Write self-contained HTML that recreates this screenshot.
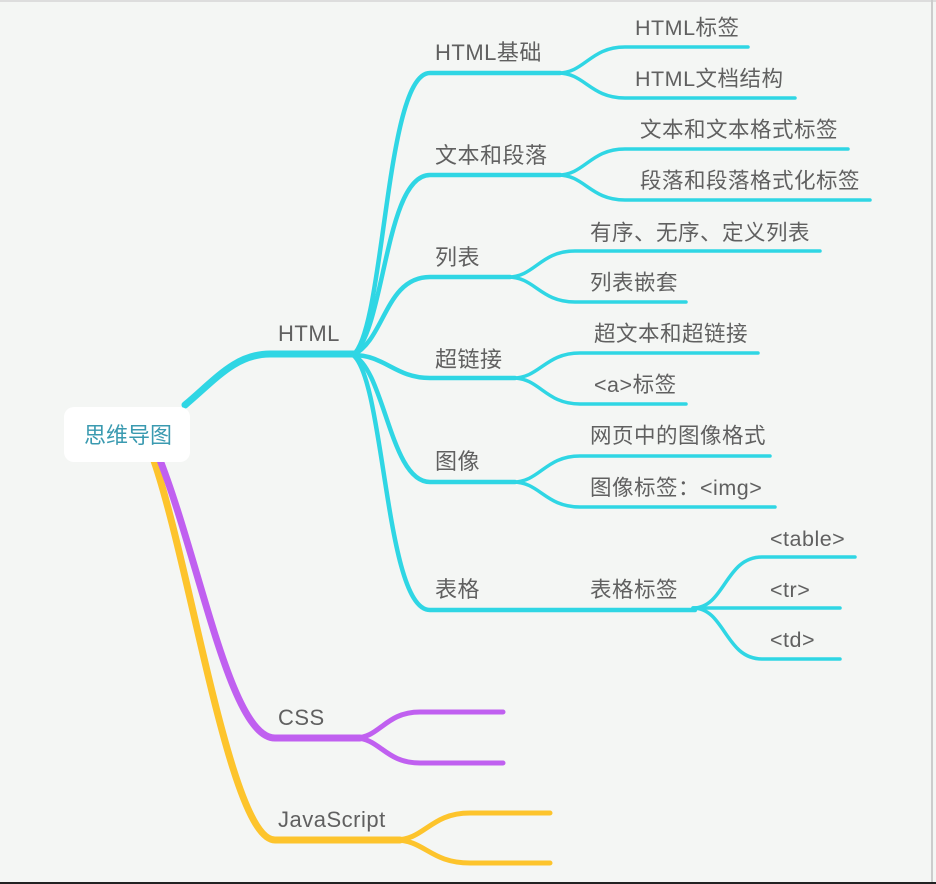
<!DOCTYPE html>
<html><head><meta charset="utf-8"><style>
html,body{margin:0;padding:0;background:#f4f6f4;}
svg{display:block}
text{font-family:"Liberation Sans","Noto Sans CJK SC",sans-serif;fill:#606060;}
</style></head><body>
<svg width="936" height="884" viewBox="0 0 936 884" xmlns="http://www.w3.org/2000/svg">
<rect x="0" y="0" width="936" height="884" fill="#f4f6f4"/>
<line x1="0" y1="1" x2="936" y2="1" stroke="#ddd" stroke-width="2"/>
<line x1="932" y1="0" x2="932" y2="884" stroke="#ccc" stroke-width="2"/>
<line x1="0" y1="883" x2="936" y2="883" stroke="#222" stroke-width="2"/>
<g fill="none" stroke-linecap="round">
<path d="M152 455 C 190 560, 230 840, 275 840 L 400 840" stroke="#fdc42c" stroke-width="7"/>
<path d="M395 840 C 425 840, 430 813, 470 813 L 550 813" stroke="#fdc42c" stroke-width="5"/>
<path d="M395 840 C 425 840, 430 863, 470 863 L 550 863" stroke="#fdc42c" stroke-width="5"/>
<path d="M158 455 C 200 560, 230 738, 275 738 L 360 738" stroke="#c060f0" stroke-width="7"/>
<path d="M355 738 C 380 738, 385 712, 420 712 L 503 712" stroke="#c060f0" stroke-width="5"/>
<path d="M355 738 C 380 738, 385 763, 420 763 L 503 763" stroke="#c060f0" stroke-width="5"/>
<g stroke="#2fd6e4">
<path d="M185 405 C 215 380, 235 354, 270 354 L 355 354" stroke-width="7"/>
<g stroke-width="4.5">
<path d="M353 355 C 385 330, 385 73, 430 73 L 560 73"/>
<path d="M353 355 C 385 330, 385 175, 430 175 L 560 175"/>
<path d="M353 355 C 385 340, 385 277, 430 277 L 510 277"/>
<path d="M353 355 C 385 355, 395 378, 430 378 L 515 378"/>
<path d="M353 355 C 385 370, 390 482, 430 482 L 515 482"/>
<path d="M353 355 C 385 380, 385 610, 430 610 L 695 610"/>
</g>
<g stroke-width="3.5">
<path d="M558 73 C 585 73, 590 47, 625 47 L 748 47"/>
<path d="M558 73 C 585 73, 590 98, 625 98 L 795 98"/>
<path d="M558 175 C 585 175, 590 149, 625 149 L 848 149"/>
<path d="M558 175 C 585 175, 590 200, 625 200 L 870 200"/>
<path d="M508 277 C 535 277, 540 251, 575 251 L 820 251"/>
<path d="M508 277 C 535 277, 540 302, 575 302 L 686 302"/>
<path d="M513 378 C 540 378, 545 353, 580 353 L 758 353"/>
<path d="M513 378 C 540 378, 545 404, 580 404 L 686 404"/>
<path d="M513 482 C 540 482, 545 456, 580 456 L 770 456"/>
<path d="M513 482 C 540 482, 545 507, 580 507 L 775 507"/>
<path d="M693 608 C 725 608, 725 557, 762 557 L 855 557"/>
<path d="M693 608 L 840 608"/>
<path d="M693 608 C 725 608, 725 659, 762 659 L 840 659"/>
</g>
</g>
</g>
<rect x="64" y="407" width="126" height="55" rx="10" fill="#ffffff"/>
<text x="128" y="443" text-anchor="middle" font-size="22" style="fill:#3a9ab0">思维导图</text>
<g font-size="22" letter-spacing="0.5">
<text x="278" y="341">HTML</text>
<text x="278" y="725">CSS</text>
<text x="278" y="827">JavaScript</text>
<text x="435" y="60">HTML基础</text>
<text x="435" y="163">文本和段落</text>
<text x="435" y="265">列表</text>
<text x="435" y="367">超链接</text>
<text x="435" y="469">图像</text>
<text x="435" y="597">表格</text>
</g>
<g font-size="21.5" letter-spacing="0.5">
<text x="635" y="35">HTML标签</text>
<text x="635" y="86">HTML文档结构</text>
<text x="640" y="137">文本和文本格式标签</text>
<text x="640" y="188">段落和段落格式化标签</text>
<text x="590" y="240">有序、无序、定义列表</text>
<text x="590" y="290">列表嵌套</text>
<text x="594" y="341">超文本和超链接</text>
<text x="594" y="392">&lt;a&gt;标签</text>
<text x="590" y="443">网页中的图像格式</text>
<text x="590" y="495">图像标签：&lt;img&gt;</text>
<text x="590" y="597">表格标签</text>
<text x="770" y="546">&lt;table&gt;</text>
<text x="770" y="597">&lt;tr&gt;</text>
<text x="770" y="647">&lt;td&gt;</text>
</g>
</svg>
</body></html>
